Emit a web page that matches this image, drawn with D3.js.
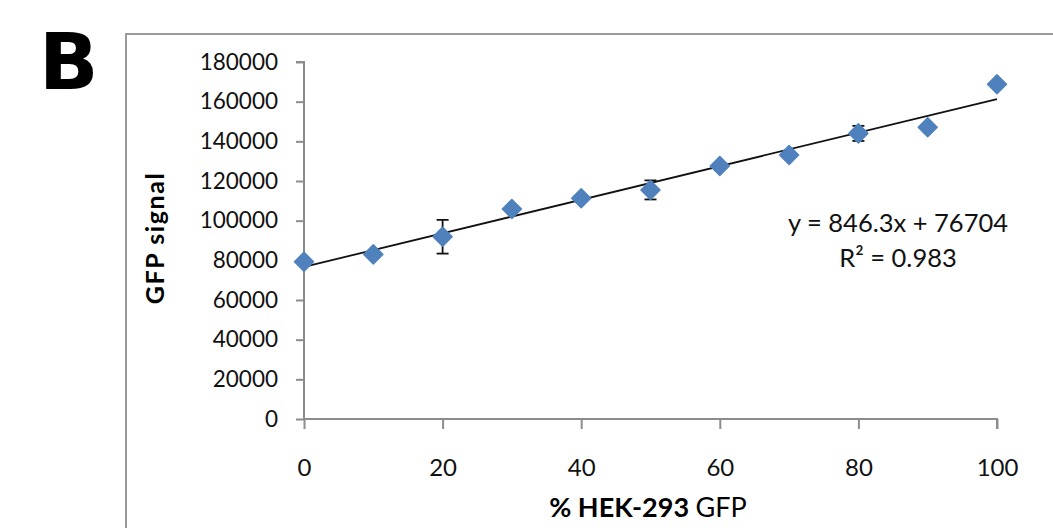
<!DOCTYPE html>
<html><head><meta charset="utf-8">
<script src="https://cdn.jsdelivr.net/npm/d3@7"></script>
<style>html,body{margin:0;padding:0;background:#fff;}svg{display:block;}</style>
</head><body>
<svg id="c" width="1053" height="528"></svg>
<script>
const xValues = [0, 10, 20, 30, 40, 50, 60, 70, 80, 90, 100];
const yValues = [79300, 83000, 91900, 105900, 111300, 115500, 127600, 133100, 144000, 147100, 168800];
const yErrors = [1200, 1500, 8500, 1500, 1200, 4800, 1500, 1500, 3800, 1200, 1200];
const xTicks = [0, 20, 40, 60, 80, 100];
const yTicks = [0, 20000, 40000, 60000, 80000, 100000, 120000, 140000, 160000, 180000];
const trendCoef = [846.3, 76704];
const trendLabels = ["y = 846.3x + 76704", "R² = 0.983"];
const panelLabel = ["B"];
const yTitle = ["GFP signal"];

const svg = d3.select("#c");
const font = "Lato, 'Open Sans', sans-serif";
const x = d3.scaleLinear().domain([0, 100]).range([304, 997]);
const y = d3.scaleLinear().domain([0, 180000]).range([419, 62]);

// outer frame
svg.append("path").attr("d", "M126,528V34H1053").attr("fill", "none")
  .attr("stroke", "#9a9a9a").attr("stroke-width", 2);

svg.append("text").attr("x", 39).attr("y", 89).text(panelLabel[0])
  .attr("font-family", "'DejaVu Sans', sans-serif").attr("font-weight", "bold")
  .attr("font-size", 78).attr("fill", "#000");

// axes
const ya = svg.append("g").attr("transform", "translate(304,0)")
  .call(d3.axisLeft(y).tickValues(yTicks).tickSize(8).tickPadding(18).tickFormat(d3.format("d")));
const xa = svg.append("g").attr("transform", "translate(0,419)")
  .call(d3.axisBottom(x).tickValues(xTicks).tickSize(10).tickPadding(30).tickFormat(d3.format("d")));
[ya, xa].forEach(g => {
  g.selectAll("path,line").attr("stroke", "#8c8c8c").attr("stroke-width", 2);
  g.selectAll("text").attr("font-family", font).attr("font-size", 22.5).attr("fill", "#111");
});
xa.selectAll("text").attr("font-size", 24);
ya.select(".domain").attr("d", "M-8,62H0V419");
xa.select(".domain").attr("d", "M304,0H997V10");

// trendline
svg.append("line")
  .attr("x1", x(0)).attr("y1", y(trendCoef[1]))
  .attr("x2", x(100)).attr("y2", y(trendCoef[0] * 100 + trendCoef[1]))
  .attr("stroke", "#111").attr("stroke-width", 1.8);

// error bars
const eb = svg.append("g").attr("stroke", "#111").attr("stroke-width", 1.8);
xValues.forEach((xv, i) => {
  const cx = x(xv), t = y(yValues[i] + yErrors[i]), b = y(yValues[i] - yErrors[i]);
  eb.append("line").attr("x1", cx).attr("x2", cx).attr("y1", t).attr("y2", b);
  eb.append("line").attr("x1", cx - 6).attr("x2", cx + 6).attr("y1", t).attr("y2", t);
  eb.append("line").attr("x1", cx - 6).attr("x2", cx + 6).attr("y1", b).attr("y2", b);
});

// markers
svg.append("g").selectAll("path").data(xValues).join("path")
  .attr("transform", (d, i) => `translate(${x(d)},${y(yValues[i])})`)
  .attr("d", "M0,-9.5L9.5,0L0,9.5L-9.5,0Z").attr("fill", "#4f81bd")
  .attr("stroke", "#4f81bd").attr("stroke-width", 1.5).attr("stroke-linejoin", "round");

// equation
trendLabels.forEach((t, i) => {
  svg.append("text").attr("x", 898).attr("y", 232 + i * 35).attr("text-anchor", "middle")
    .attr("font-family", font).attr("font-size", 25.5).attr("fill", "#111").text(t);
});

// axis titles
svg.append("text").attr("transform", "translate(164,238) rotate(-90)").attr("text-anchor", "middle")
  .attr("font-family", font).attr("font-weight", "bold").attr("font-size", 25)
  .attr("letter-spacing", 1.6).attr("fill", "#000").text(yTitle[0]);
const xt = svg.append("text").attr("x", 648).attr("y", 517).attr("text-anchor", "middle")
  .attr("font-family", font).attr("font-size", 27).attr("fill", "#000");
xt.append("tspan").attr("font-weight", "bold").text("% HEK-293 ");
xt.append("tspan").text("GFP");
</script>
</body></html>
